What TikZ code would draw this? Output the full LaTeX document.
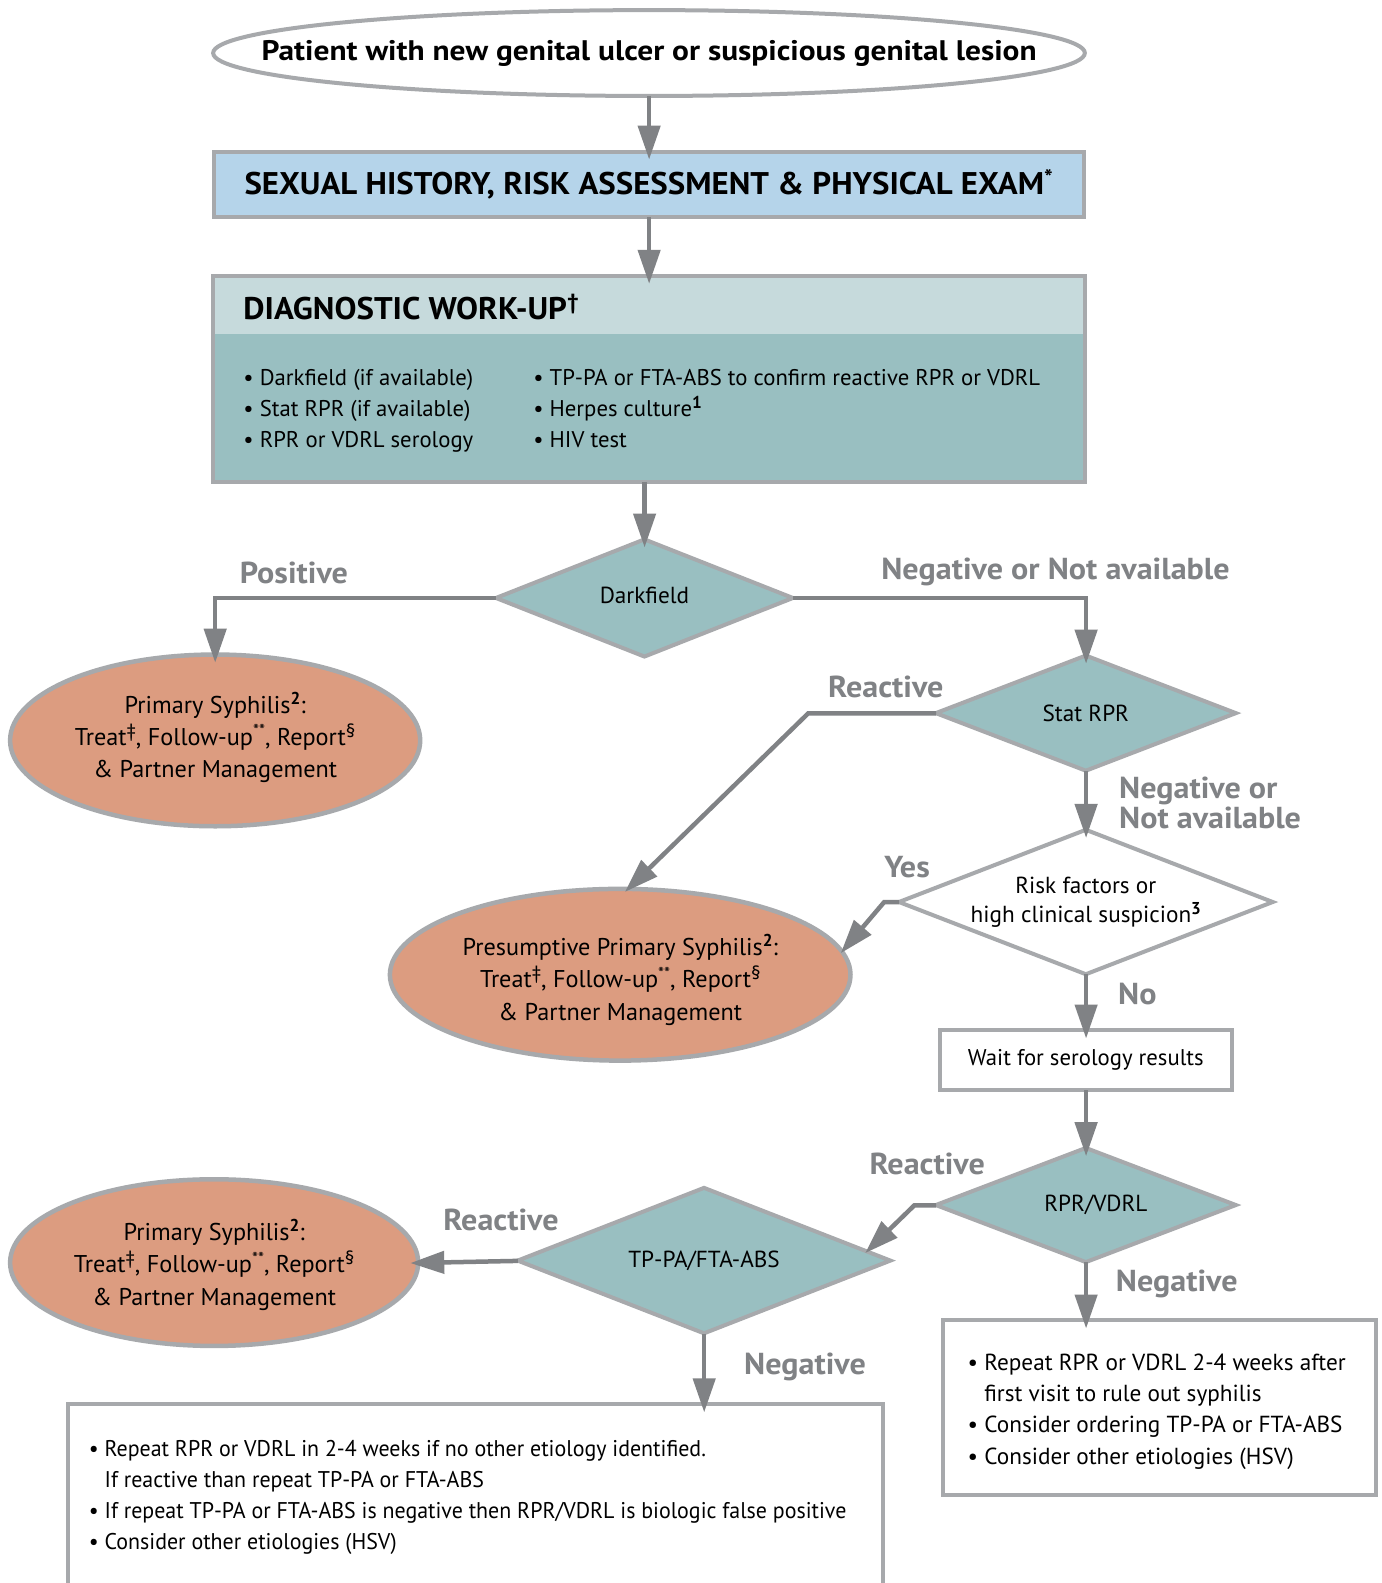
\documentclass[tikz,border=0pt]{standalone}
\usepackage{fontspec}
\setmainfont{PT Sans}
\newfontfamily\ftitle[FakeStretch=1.11]{PT Sans}
\newfontfamily\fhead[FakeStretch=1.05]{PT Sans}
\newfontfamily\flab[FakeStretch=1.06]{PT Sans}
\newfontfamily\fbot[FakeStretch=0.965]{PT Sans}
\newcommand\mysup[1]{\raisebox{0.36em}{\fontsize{17}{17}\selectfont #1}}
\newcommand\mysupb[1]{\raisebox{0.34em}{\fontsize{19}{19}\selectfont #1}}
\usetikzlibrary{shapes.geometric,arrows.meta,calc}
\definecolor{bordc}{HTML}{A7A9AC}
\definecolor{arrc}{HTML}{808285}
\definecolor{tealc}{HTML}{99BFC1}
\definecolor{headc}{HTML}{C6DADC}
\definecolor{bluec}{HTML}{B5D4EA}
\definecolor{salc}{HTML}{DC9C80}
\begin{document}
\begin{tikzpicture}[x=1pt,y=-1pt,scale=1.0101,transform shape,
 every node/.style={outer sep=0pt},
 box/.style={draw=bordc,line width=4pt,inner sep=0pt},
 dia/.style={diamond,aspect=2.6,draw=bordc,line width=4pt,fill=tealc,inner sep=0pt,font=\fontsize{23}{29}\selectfont},
 oval/.style={ellipse,draw=bordc,line width=4.5pt,fill=salc,inner sep=0pt},
 ovaltext/.style={inner sep=0pt,align=center,font=\fontsize{24}{32}\selectfont},
 arr/.style={draw=arrc,line width=4.5pt,-{Triangle[length=34pt,width=22pt]},shorten >=-8pt},
 lab/.style={text=arrc,font=\flab\bfseries\fontsize{30}{30}\selectfont,inner sep=0pt},
]
\begin{scope}
\clip (0,0) rectangle (1368.2,1567.2);
\fill[white] (0,0) rectangle (1368.2,1567.2);

% top
\node[ellipse,draw=bordc,line width=4pt,fill=white,minimum width=863pt,minimum height=85pt,inner sep=0pt] (start) at (642.5,52.5) {};
\node[inner sep=0pt,font=\ftitle\bfseries\fontsize{28}{32}\selectfont] (startt) at (start.center) {Patient with new genital ulcer or suspicious genital lesion};

\node[box,fill=bluec,minimum width=862pt,minimum height=65pt,font=\fhead\bfseries\fontsize{31}{32}\selectfont] (hist) at (642.5,182.5) {SEXUAL HISTORY, RISK ASSESSMENT \& PHYSICAL EXAM\textsuperscript{*}};

\node[box,fill=tealc,minimum width=863pt,minimum height=204pt] (work) at (642.5,375) {};
\fill[headc] ([shift={(2pt,-2pt)}]work.north west) rectangle ([shift={(-2pt,-58pt)}]work.north east);
\node[anchor=west,inner sep=0pt,font=\fhead\bfseries\fontsize{31}{32}\selectfont] (workt) at (241,304) {DIAGNOSTIC WORK-UP\textsuperscript{†}};
\node[anchor=north west,align=left,inner sep=0pt,font=\fontsize{22.5}{30.5}\selectfont] (wl) at (241,366) {• Darkfield (if available)\\• Stat RPR (if available)\\• RPR or VDRL serology};
\node[anchor=north west,align=left,inner sep=0pt,font=\fontsize{22.5}{30.5}\selectfont] (wr) at (528,366) {• TP-PA or FTA-ABS to confirm reactive RPR or VDRL\\• Herpes culture\mysup{\bfseries 1}\\• HIV test};

% decisions
\node[dia,minimum width=294pt,minimum height=116pt] (dark) at (638,592) {\raisebox{5pt}{Darkfield}};
\node[dia,minimum width=297pt,minimum height=114pt] (stat) at (1075,706) {Stat RPR};
\node[dia,fill=white,minimum width=370pt,minimum height=143pt,align=center] (risk) at (1075,893) {Risk factors or\\high clinical suspicion\mysup{\bfseries 3}};
\node[dia,minimum width=297pt,minimum height=113pt] (rpr) at (1075,1193) {\hspace{20pt}RPR/VDRL};
\node[dia,minimum width=369pt,minimum height=144pt] (tp) at (697,1248) {TP-PA/FTA-ABS\hspace{20pt}};

% outcomes
\node[oval,minimum width=406pt,minimum height=170pt] (ps1) at (213,733) {};
\node[ovaltext] (ps1t) at ([yshift=3pt]ps1.center) {Primary Syphilis\mysup{\bfseries 2}:\\Treat\mysupb{‡}, Follow-up\mysup{**}, Report\mysupb{§}\\\& Partner Management};
\node[oval,minimum width=456pt,minimum height=170pt] (ps2) at (614,965) {};
\node[ovaltext] (ps2t) at ([yshift=-5pt]ps2.center) {Presumptive Primary Syphilis\mysup{\bfseries 2}:\\Treat\mysupb{‡}, Follow-up\mysup{**}, Report\mysupb{§}\\\& Partner Management};
\node[oval,minimum width=404pt,minimum height=165pt] (ps3) at (212,1250) {};
\node[ovaltext] (ps3t) at ([yshift=-2pt]ps3.center) {Primary Syphilis\mysup{\bfseries 2}:\\Treat\mysupb{‡}, Follow-up\mysup{**}, Report\mysupb{§}\\\& Partner Management};

\node[box,fill=white,minimum width=289pt,minimum height=59pt,font=\fontsize{22.5}{28}\selectfont] (wait) at (1075,1049.5) {\raisebox{-2pt}{Wait for serology results}};

\node[box,fill=white,minimum width=428pt,minimum height=173pt] (rb) at (1148,1393.5) {};
\node[anchor=north west,align=left,inner sep=0pt,font=\fontsize{23}{31}\selectfont] (rbt) at (958,1340) {• Repeat RPR or VDRL 2-4 weeks after\\\phantom{• }first visit to rule out syphilis\\• Consider ordering TP-PA or FTA-ABS\\• Consider other etiologies (HSV)};

\node[box,fill=white,minimum width=807pt,minimum height=260pt,anchor=north west] (bb) at (67,1390) {};
\node[anchor=north west,align=left,inner sep=0pt,font=\fbot\fontsize{22.5}{30.7}\selectfont] (bbt) at (88,1426) {• Repeat RPR or VDRL in 2-4 weeks if no other etiology identified.\\\phantom{• }If reactive than repeat TP-PA or FTA-ABS\\• If repeat TP-PA or FTA-ABS is negative then RPR/VDRL is biologic false positive\\• Consider other etiologies (HSV)};

% bend points
\coordinate (b1) at (800,706);
\coordinate (b2) at (875,893);
\coordinate (b3) at (905,1193);
\coordinate (tpe) at ($(tp.east)!0.13!(tp.north)$);

% arrows
\draw[arr] (start.south) -- (hist.north);
\draw[arr] (hist.south) -- (work.north);
\draw[arr] (work.south -| dark.north) -- (dark.north);
\draw[arr] (dark.west) -| (ps1.north);
\draw[arr] (dark.east) -| (stat.north);
\draw[arr,shorten >=-4pt] (stat.west) -- (b1) -- (ps2.85);
\draw[arr] (stat.south) -- (risk.north);
\draw[arr,shorten >=-2pt] (risk.west) -- (b2) -- (ps2.6);
\draw[arr] (risk.south) -- (wait.north);
\draw[arr] (wait.south) -- (rpr.north);
\draw[arr,shorten >=-2pt] (rpr.west) -- (b3) -- (tpe);
\draw[arr] (rpr.south) -- (rpr.south |- rb.north);
\draw[arr] (tp.west) -- (ps3.east);
\draw[arr] (tp.south) -- (tp.south |- bb.north);

% labels
\node[lab] (lpos) at (291,567) {Positive};
\node[lab] (lneg1) at (1045,566) {Negative or Not available};
\node[lab] (lreac1) at (877,680) {Reactive};
\node[lab,anchor=west,align=left] (lneg2) at (1108,795) {Negative or\\Not available};
\node[lab] (lyes) at (898,858) {Yes};
\node[lab] (lno) at (1126,984) {No};
\node[lab] (lreac2) at (918,1152) {Reactive};
\node[lab] (lreac3) at (496,1208) {Reactive};
\node[lab] (lneg3) at (1165,1271) {Negative};
\node[lab] (lneg4) at (797,1353) {Negative};
\end{scope}
\pgfresetboundingbox
\useasboundingbox (0,0) rectangle (1368.2,1567.2);
\end{tikzpicture}
\end{document}
